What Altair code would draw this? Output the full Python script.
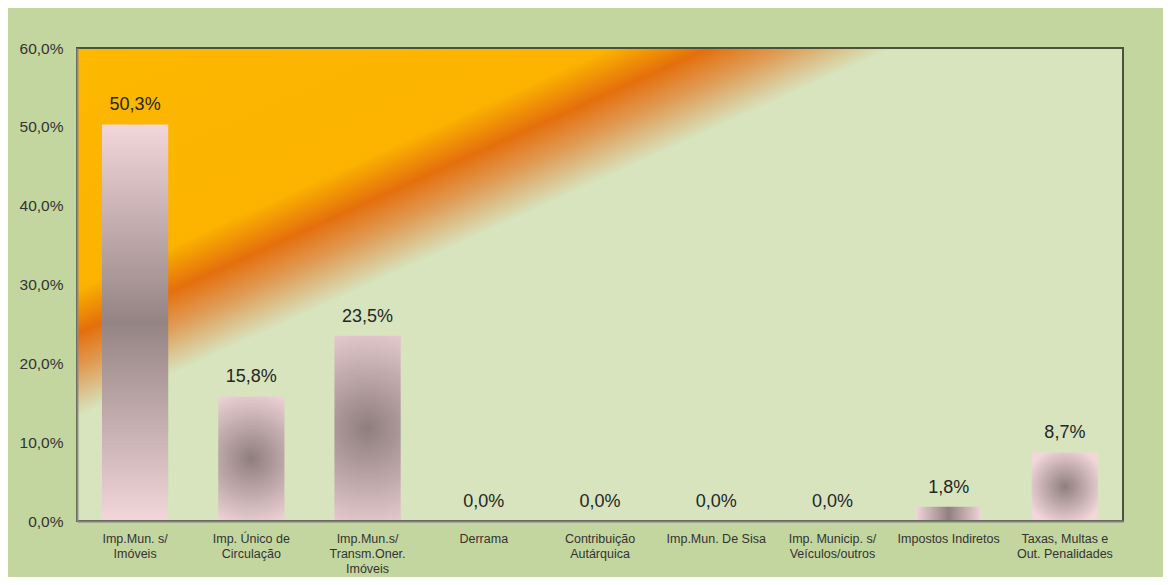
import altair as alt
import pandas as pd

categories = [
    "Imp.Mun. s/|Imóveis",
    "Imp. Único de|Circulação",
    "Imp.Mun.s/|Transm.Oner.|Imóveis",
    "Derrama",
    "Contribuição|Autárquica",
    "Imp.Mun. De Sisa",
    "Imp. Municip. s/|Veículos/outros",
    "Impostos Indiretos",
    "Taxas, Multas e|Out. Penalidades",
]
values = [50.3, 15.8, 23.5, 0.0, 0.0, 0.0, 0.0, 1.8, 8.7]
y_ticks = [0, 10, 20, 30, 40, 50, 60]

df = pd.DataFrame({"cat": categories, "val": values})

W, H = 1046, 473
FONT = "Liberation Sans"
PINK = "#f2d6da"
DARK = "#8f7e7f"

bg_grad = alt.LinearGradient(
    gradient="linear",
    x1=0, y1=0, x2=1, y2=1,
    stops=[
        alt.GradientStop(offset=0, color="#fdb800"),
        alt.GradientStop(offset=0.255, color="#fbb300"),
        alt.GradientStop(offset=0.302, color="#e46f0c"),
        alt.GradientStop(offset=0.34, color="#df9c55"),
        alt.GradientStop(offset=0.39, color="#d7e4be"),
        alt.GradientStop(offset=1, color="#d7e4be"),
    ],
)
vert_grad = alt.LinearGradient(
    gradient="linear", x1=0, y1=0, x2=0, y2=1,
    stops=[
        alt.GradientStop(offset=0, color=PINK),
        alt.GradientStop(offset=0.5, color="#958484"),
        alt.GradientStop(offset=1, color=PINK),
    ],
)
tall_rad_grad = alt.RadialGradient(
    gradient="radial", x1=0.5, y1=0.5, r1=0, x2=0.5, y2=0.5, r2=0.62,
    stops=[
        alt.GradientStop(offset=0, color=DARK),
        alt.GradientStop(offset=1, color=PINK),
    ],
)
horiz_grad = alt.LinearGradient(
    gradient="linear", x1=0, y1=0, x2=1, y2=0,
    stops=[
        alt.GradientStop(offset=0, color=PINK),
        alt.GradientStop(offset=0.5, color="#927f81"),
        alt.GradientStop(offset=1, color=PINK),
    ],
)
rad_grad = alt.RadialGradient(
    gradient="radial", x1=0.5, y1=0.5, r1=0, x2=0.5, y2=0.5, r2=0.58,
    stops=[
        alt.GradientStop(offset=0, color=DARK),
        alt.GradientStop(offset=1, color=PINK),
    ],
)

frame = alt.Data(values=[{"k": 1}])
bg = alt.Chart(frame).mark_rect(fill=bg_grad).encode(
    x=alt.value(0), x2=alt.value(W), y=alt.value(0), y2=alt.value(H)
)
border = alt.Chart(frame).mark_rect(
    filled=False, stroke="#4c5238", strokeWidth=2
).encode(x=alt.value(0), x2=alt.value(W), y=alt.value(0), y2=alt.value(H))

x_enc = alt.X(
    "cat:N", sort=None, title=None,
    scale=alt.Scale(domain=categories, paddingInner=0.43, paddingOuter=0.215),
    axis=alt.Axis(
        labelAngle=0, labelExpr="split(datum.label, '|')", labelFontSize=12.5,
        labelLineHeight=15, labelPadding=11, ticks=False, labelColor="#333333",
        labelFont=FONT, domainColor="#808080", domainWidth=2, labelLimit=300,
        labelBaseline="top", zindex=1,
    ),
)
y_enc = alt.Y(
    "val:Q", title=None,
    scale=alt.Scale(domain=[0, 60], nice=False),
    axis=alt.Axis(
        values=y_ticks, grid=False, ticks=False, labelFontSize=15.5,
        labelPadding=14, labelColor="#333333", labelFont=FONT,
        domainColor="#8a8a8a", domainWidth=2, zindex=1,
        labelExpr="replace(format(datum.value, '.1f'), '.', ',') + '%'",
    ),
)

base = alt.Chart(df)
bars_tall = base.transform_filter("datum.val > 40").mark_bar(fill=vert_grad).encode(x=x_enc, y=y_enc)
bars_tall2 = base.transform_filter("datum.val > 20 && datum.val <= 40").mark_bar(fill=tall_rad_grad).encode(x=x_enc, y=y_enc)
bars_mid = base.transform_filter("datum.val > 5 && datum.val <= 20").mark_bar(fill=rad_grad).encode(x=x_enc, y=y_enc)
bars_low = base.transform_filter("datum.val > 0 && datum.val <= 5").mark_bar(fill=horiz_grad).encode(x=x_enc, y=y_enc)

labels = base.transform_calculate(
    lbl="replace(format(datum.val, '.1f'), '.', ',') + '%'"
).mark_text(
    dy=-14, baseline="alphabetic", fontSize=18, color="#262626", font=FONT
).encode(x=x_enc, y=y_enc, text="lbl:N")

chart = alt.layer(bg, bars_tall, bars_tall2, bars_mid, bars_low, labels, border).properties(
    width=W, height=H,
    padding={"left": 69, "top": 40, "right": 40, "bottom": 56},
    autosize=alt.AutoSizeParams(type="none"),
    background="#c4d69f",
).configure_view(stroke=None)

chart.save("out.html", embed_options={"renderer": "svg", "actions": False})
